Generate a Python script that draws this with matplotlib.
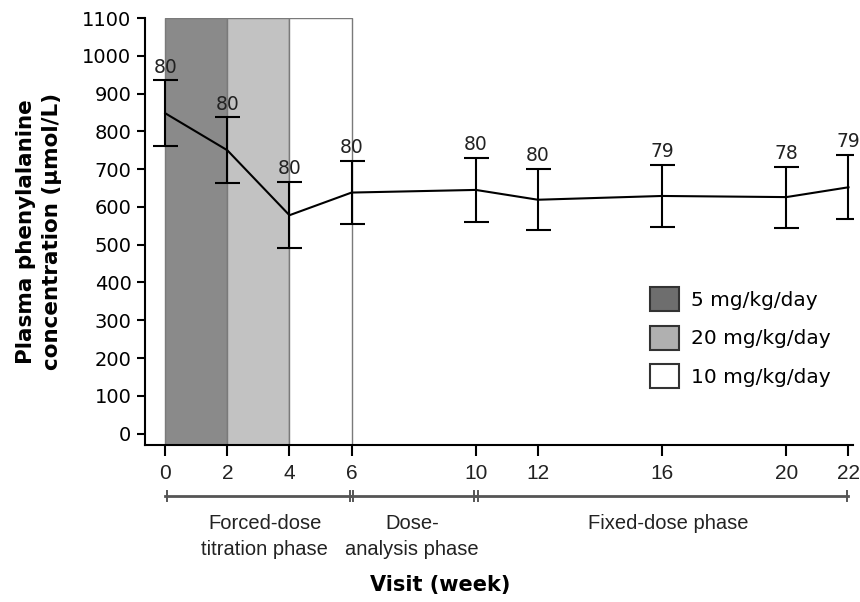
import numpy as np
import matplotlib.pyplot as plt
from matplotlib.patches import Patch

# Plasma phenylalanine over study visits
weeks = [0, 2, 4, 6, 10, 12, 16, 20, 22]
phe_mean = [848, 750, 578, 638, 645, 619, 629, 626, 652]
phe_sd = [87, 87, 88, 84, 85, 81, 83, 81, 85]
n_patients = [80, 80, 80, 80, 80, 80, 79, 78, 79]

# Forced-dose titration periods
dose_labels = ["5 mg/kg/day", "20 mg/kg/day", "10 mg/kg/day"]
dose_start = [0, 2, 4]
dose_end = [2, 4, 6]

# Study phases shown under the x axis
phase_labels = ["Forced-dose\ntitration phase", "Dose-\nanalysis phase", "Fixed-dose phase"]
phase_start = [0, 6, 10]
phase_end = [6, 10, 22]

plt.rcParams["font.family"] = ["DejaVu Sans"]
narrow = ["Liberation Sans", "DejaVu Sans"]

fig = plt.figure(figsize=(8.6, 6.02), dpi=100)
ax = fig.add_axes([0.169, 0.261, 0.823, 0.709])

y_bottom = -30
ax.set_xlim(-0.64, 22.15)
ax.set_ylim(y_bottom, 1100)

dose_colors = ["#8a8a8a", "#c2c2c2", "white"]
for start, end, color in zip(dose_start, dose_end, dose_colors):
    ax.bar(start, 1100 - y_bottom, width=end - start, bottom=y_bottom, align="edge",
           color=color, edgecolor="#7a7a7a", linewidth=1.0, zorder=1)

ax.errorbar(weeks, phe_mean, yerr=phe_sd, color="black", linewidth=1.5,
            elinewidth=1.5, capsize=9, capthick=1.5, zorder=3)

for x, m, s, n in zip(weeks, phe_mean, phe_sd, n_patients):
    ax.text(x, m + s + 10, str(n), ha="center", va="bottom", fontsize=13.5, color="#222")

ax.spines["top"].set_visible(False)
ax.spines["right"].set_visible(False)
ax.spines["left"].set_linewidth(1.5)
ax.spines["bottom"].set_linewidth(1.5)
ax.set_yticks(np.arange(0, 1101, 100))
ax.set_xticks(weeks)
ax.tick_params(axis="y", labelsize=14, length=6, width=1.5, pad=4)
ax.tick_params(axis="x", length=8, width=1.5, pad=6)
for lbl in ax.get_xticklabels():
    lbl.set_family(narrow)
    lbl.set_fontsize(15)
    lbl.set_color("#222")

ax.set_ylabel("Plasma phenylalanine\nconcentration (\u00b5mol/L)", fontsize=15.5,
              fontweight="bold", linespacing=1.35)
ax.yaxis.set_label_coords(-0.118, 0.5)

# Phase bar under the tick labels
trans = ax.get_xaxis_transform()
bar_y = -0.119
for start, end in zip(phase_start, phase_end):
    ax.plot([start, end], [bar_y, bar_y], color="#555", linewidth=2,
            transform=trans, clip_on=False)
    for edge in (start + 0.06, end - 0.06):
        ax.plot([edge, edge], [bar_y - 0.012, bar_y + 0.012], color="#555",
                linewidth=1.4, transform=trans, clip_on=False)

phase_x = [3.2, 7.95, 16.2]
for x, label in zip(phase_x, phase_labels):
    ax.text(x, -0.163, label, ha="center", va="top", fontsize=14.5, family=narrow,
            linespacing=1.45, transform=trans, color="#222")

fig.text(0.512, 0.012, "Visit (week)", ha="center", va="bottom", fontsize=15,
         fontweight="bold")

handles = [Patch(facecolor=c, edgecolor="#333", linewidth=1.5)
           for c in ["#6e6e6e", "#b0b0b0", "white"]]
ax.legend(handles, dose_labels, loc="upper left", bbox_to_anchor=(0.699, 0.393),
          frameon=False, fontsize=14.5, handlelength=1.45, handleheight=1.45,
          labelspacing=0.72, handletextpad=0.6, borderpad=0)

plt.savefig("out.png", dpi=100)
